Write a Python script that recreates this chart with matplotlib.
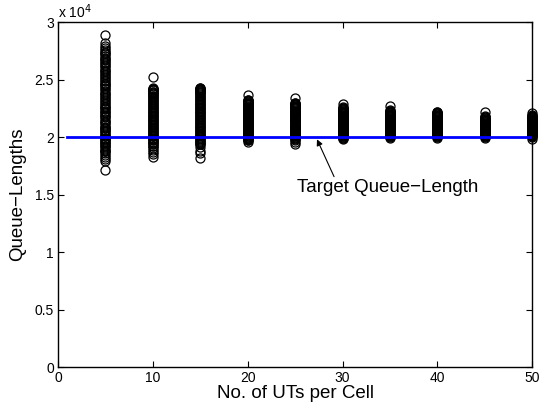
import matplotlib
matplotlib.use("Agg")
import matplotlib.pyplot as plt

plt.rcParams['font.family'] = ['Liberation Sans', 'DejaVu Sans']

# queue lengths in units of 1e4 (as on the axis), one list per cell load
ues = [5, 10, 15, 20, 25, 30, 35, 40, 45, 50]
q_5 = [2.89, 2.82, 2.79, 2.77, 2.755, 2.74, 2.73, 2.72, 2.705, 2.69, 2.68, 2.67,
       2.655, 2.64, 2.63, 2.62, 2.60, 2.585, 2.575, 2.565, 2.55, 2.535, 2.52, 2.51,
       2.50, 2.485, 2.47, 2.46, 2.455, 2.44, 2.43, 2.42, 2.40, 2.385, 2.375, 2.365,
       2.35, 2.335, 2.32, 2.31, 2.30, 2.285, 2.27, 2.26, 2.255, 2.24, 2.23, 2.22,
       2.205, 2.19, 2.18, 2.17, 2.155, 2.14, 2.13, 2.12, 2.105, 2.09, 2.08, 2.075,
       2.06, 2.05, 2.04, 2.025, 2.015, 2.01, 1.995, 1.985, 1.98, 1.965, 1.955,
       1.95, 1.935, 1.925, 1.92, 1.905, 1.89, 1.88, 1.875, 1.86, 1.845, 1.83, 1.81,
       1.79, 1.71]
q_10 = [2.52, 2.425, 2.42, 2.415, 2.41, 2.405, 2.395, 2.39, 2.385, 2.375, 2.37,
        2.36, 2.355, 2.345, 2.335, 2.33, 2.32, 2.31, 2.305, 2.295, 2.285, 2.28,
        2.27, 2.26, 2.255, 2.245, 2.235, 2.23, 2.22, 2.21, 2.205, 2.195, 2.185,
        2.18, 2.17, 2.16, 2.155, 2.145, 2.135, 2.13, 2.12, 2.11, 2.105, 2.095,
        2.085, 2.08, 2.07, 2.06, 2.055, 2.045, 2.035, 2.03, 2.02, 2.01, 2.005,
        1.995, 1.985, 1.98, 1.97, 1.96, 1.955, 1.945, 1.935, 1.925, 1.92, 1.905,
        1.89, 1.87, 1.85, 1.83]
q_15 = [2.43, 2.425, 2.42, 2.415, 2.41, 2.405, 2.40, 2.395, 2.39, 2.38, 2.375,
        2.365, 2.355, 2.35, 2.34, 2.33, 2.325, 2.315, 2.305, 2.30, 2.29, 2.28,
        2.275, 2.265, 2.255, 2.25, 2.24, 2.23, 2.225, 2.215, 2.205, 2.20, 2.19,
        2.18, 2.175, 2.165, 2.155, 2.15, 2.14, 2.13, 2.125, 2.115, 2.105, 2.10,
        2.09, 2.08, 2.075, 2.065, 2.055, 2.05, 2.04, 2.03, 2.025, 2.015, 2.005,
        2.00, 1.99, 1.98, 1.975, 1.965, 1.955, 1.95, 1.94, 1.935, 1.91, 1.88,
        1.86, 1.82]
q_20 = [2.365, 2.325, 2.32, 2.315, 2.31, 2.305, 2.30, 2.295, 2.29, 2.285, 2.28,
        2.27, 2.265, 2.26, 2.255, 2.25, 2.245, 2.24, 2.235, 2.23, 2.225, 2.22,
        2.21, 2.205, 2.20, 2.195, 2.19, 2.185, 2.18, 2.175, 2.17, 2.165, 2.16,
        2.155, 2.15, 2.14, 2.135, 2.13, 2.125, 2.12, 2.115, 2.11, 2.105, 2.10,
        2.095, 2.09, 2.085, 2.075, 2.07, 2.065, 2.06, 2.055, 2.05, 2.045, 2.04,
        2.035, 2.03, 2.025, 2.02, 2.01, 2.005, 2.00, 1.995, 1.99, 1.985, 1.98,
        1.975, 1.97, 1.96]
q_25 = [2.34, 2.30, 2.295, 2.29, 2.285, 2.28, 2.275, 2.27, 2.265, 2.26, 2.255,
        2.25, 2.245, 2.235, 2.23, 2.225, 2.22, 2.215, 2.21, 2.205, 2.20, 2.195,
        2.19, 2.185, 2.18, 2.17, 2.165, 2.16, 2.155, 2.15, 2.145, 2.14, 2.135,
        2.13, 2.125, 2.12, 2.11, 2.105, 2.10, 2.095, 2.09, 2.085, 2.08, 2.075,
        2.07, 2.065, 2.06, 2.055, 2.045, 2.04, 2.035, 2.03, 2.025, 2.02, 2.015,
        2.01, 2.005, 2.00, 1.995, 1.99, 1.985, 1.975, 1.96, 1.94]
q_30 = [2.29, 2.26, 2.255, 2.25, 2.245, 2.24, 2.235, 2.23, 2.225, 2.22, 2.215,
        2.21, 2.205, 2.20, 2.195, 2.19, 2.185, 2.18, 2.175, 2.17, 2.165, 2.16,
        2.155, 2.15, 2.145, 2.14, 2.135, 2.13, 2.125, 2.12, 2.115, 2.11, 2.105,
        2.10, 2.095, 2.09, 2.085, 2.08, 2.075, 2.07, 2.065, 2.06, 2.055, 2.05,
        2.045, 2.04, 2.035, 2.03, 2.025, 2.02, 2.015, 2.01, 2.005, 2.00, 1.995,
        1.99, 1.98]
q_35 = [2.27, 2.235, 2.23, 2.225, 2.22, 2.215, 2.21, 2.205, 2.20, 2.195, 2.19,
        2.185, 2.18, 2.175, 2.17, 2.165, 2.16, 2.155, 2.15, 2.145, 2.14, 2.135,
        2.13, 2.125, 2.12, 2.115, 2.11, 2.105, 2.10, 2.095, 2.09, 2.085, 2.08,
        2.075, 2.07, 2.065, 2.06, 2.055, 2.05, 2.045, 2.04, 2.035, 2.03, 2.025,
        2.02, 2.015, 2.01, 2.005, 2.00, 1.99]
q_40 = [2.22, 2.215, 2.21, 2.205, 2.20, 2.195, 2.19, 2.185, 2.18, 2.175, 2.17,
        2.165, 2.16, 2.155, 2.15, 2.145, 2.14, 2.135, 2.13, 2.125, 2.12, 2.115,
        2.11, 2.105, 2.10, 2.095, 2.09, 2.085, 2.08, 2.075, 2.07, 2.065, 2.06,
        2.055, 2.05, 2.045, 2.04, 2.035, 2.03, 2.025, 2.02, 2.015, 2.01, 2.005,
        2.00, 1.99]
q_45 = [2.22, 2.18, 2.175, 2.17, 2.165, 2.16, 2.155, 2.15, 2.145, 2.14, 2.135,
        2.13, 2.125, 2.12, 2.115, 2.11, 2.105, 2.10, 2.095, 2.09, 2.085, 2.08,
        2.075, 2.07, 2.065, 2.06, 2.055, 2.05, 2.045, 2.04, 2.035, 2.03, 2.025,
        2.02, 2.015, 2.01, 2.005, 2.00, 1.99]
q_50 = [2.205, 2.19, 2.185, 2.18, 2.175, 2.17, 2.165, 2.16, 2.155, 2.15, 2.145,
        2.14, 2.135, 2.13, 2.125, 2.12, 2.115, 2.11, 2.105, 2.10, 2.095, 2.09,
        2.085, 2.08, 2.075, 2.07, 2.065, 2.06, 2.055, 2.05, 2.045, 2.04, 2.035,
        2.03, 2.025, 2.02, 2.015, 2.01, 2.005, 2.00, 1.98]
queues = [q_5, q_10, q_15, q_20, q_25, q_30, q_35, q_40, q_45, q_50]

target_x = [1, 50]
target_q = [2.0, 2.0]

fig = plt.figure(figsize=(5.44, 4.12), dpi=100)
ax = fig.add_axes([0.1066, 0.1092, 0.872, 0.8374])

for n, q in zip(ues, queues):
    ax.plot([n] * len(q), q, 'o', markersize=6.5, markerfacecolor='none',
            markeredgecolor='black', markeredgewidth=0.9, zorder=2,
            clip_on=False)

ax.plot(target_x, target_q, color='#0000ff', linewidth=2.0, zorder=3)

ax.annotate('', xy=(27.3, 1.98), xytext=(29.1, 1.655),
            arrowprops=dict(arrowstyle='-|>', color='black', lw=0.8,
                            mutation_scale=9, shrinkA=0, shrinkB=0))
ax.text(34.8, 1.56, 'Target Queue\u2212Length', fontsize=13.5,
        ha='center', va='center')

ax.set_xlim(0, 50)
ax.set_ylim(0, 3)
ax.set_xticks(range(0, 51, 10))
ax.set_yticks([0, 0.5, 1, 1.5, 2, 2.5, 3])
ax.set_yticklabels(['0', '0.5', '1', '1.5', '2', '2.5', '3'])
ax.tick_params(direction='in', top=True, right=True, length=4, width=0.8,
               labelsize=10, pad=3)
for s in ax.spines.values():
    s.set_linewidth(1.0)

ax.set_xlabel('No. of UTs per Cell', fontsize=13.5, labelpad=0)
ax.set_ylabel('Queue\u2212Lengths', fontsize=13.5, labelpad=6)
ax.text(0.0, 1.003, 'x 10$^{4}$', transform=ax.transAxes, fontsize=10,
        ha='left', va='bottom')

fig.savefig('out.png', dpi=100)
